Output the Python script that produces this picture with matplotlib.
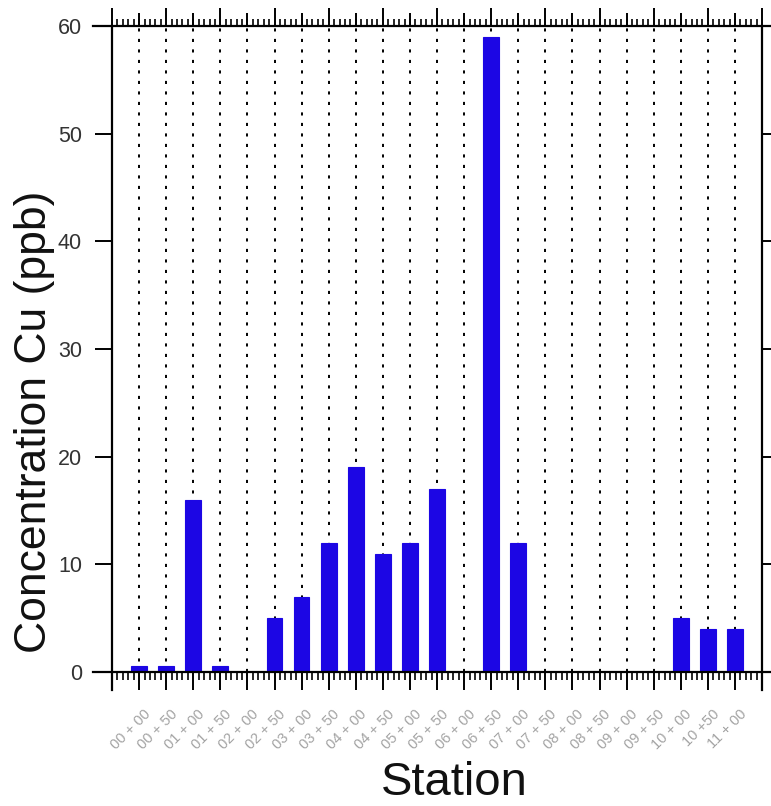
import matplotlib
matplotlib.use('Agg')
import matplotlib.pyplot as plt
import matplotlib.transforms as mtransforms
import numpy as np
from matplotlib.ticker import MultipleLocator, NullFormatter

# ── Data ──────────────────────────────────────────────────────────────────────
stations = ['00 + 00', '00 + 50', '01 + 00', '01 + 50', '02 + 00', '02 + 50',
            '03 + 00', '03 + 50', '04 + 00', '04 + 50', '05 + 00', '05 + 50',
            '06 + 00', '06 + 50', '07 + 00', '07 + 50', '08 + 00', '08 + 50',
            '09 + 00', '09 + 50', '10 + 00', '10 +50', '11 + 00']
cu_ppb = [0.6, 0.6, 16, 0.6, 0, 5, 7, 12, 19, 11, 12, 17,
          0, 59, 12, 0, 0, 0, 0, 0, 5, 4, 4]
y_ticks = [0, 10, 20, 30, 40, 50, 60]

bar_color = '#1c06e4'
px = 72 / 100  # one pixel in points at dpi=100

# ── Setup ─────────────────────────────────────────────────────────────────────
fig = plt.figure(figsize=(7.71, 8.06), dpi=100)
fig.patch.set_facecolor('white')
ax = fig.add_axes([112 / 771, 1 - 672 / 806, 650 / 771, 646 / 806])

x = np.arange(len(stations))
ax.set_xlim(-1, len(stations))
ax.set_ylim(0, 60)

# dotted station guides
for xi in x:
    ax.axvline(xi, color='black', linewidth=1.4, linestyle=(0, (1.6, 3.8)), zorder=1)

ax.bar(x, cu_ppb, width=0.58, color=bar_color, edgecolor=bar_color,
       linewidth=0.8, zorder=3)

# ── Frame: lines run past the corners ────────────────────────────────────────
for s in ax.spines.values():
    s.set_visible(False)
ext_l = 19 / 650
ext_r = 12 / 650
ext_b = 18 / 646
frame = dict(color='black', linewidth=1.6, transform=ax.transAxes, clip_on=False, zorder=5)
ax.plot([-ext_l, 1 + ext_r], [0, 0], **frame)
ax.plot([-ext_l, 1 + ext_r], [1, 1], **frame)
ax.plot([0, 0], [-ext_b, 1], **frame)
ax.plot([1, 1], [-ext_b, 1], **frame)

# ── Y axis ────────────────────────────────────────────────────────────────────
ax.set_yticks(y_ticks)
ax.set_yticklabels([str(v) for v in y_ticks],
                   family=['Liberation Sans', 'DejaVu Sans'],
                   fontsize=15.5, color='#333333')
ax.tick_params(axis='y', which='major', direction='out', length=17 * px, width=1.4,
               pad=13 * px, left=True, right=True, labelleft=True, labelright=False)

# ── Bottom X axis ─────────────────────────────────────────────────────────────
ax.set_xticks(x)
ax.set_xticklabels(stations, rotation=45, ha='right', va='top',
                   family=['Liberation Sans', 'DejaVu Sans'], fontsize=10.5, color='#a3a3a3')
ax.xaxis.set_minor_locator(MultipleLocator(0.2))
ax.tick_params(axis='x', which='major', direction='out', length=18 * px, width=1.4,
               pad=17 * px, bottom=True, top=False)
ax.tick_params(axis='x', which='minor', direction='out', length=8 * px, width=1.2,
               bottom=True, top=False)
shift = mtransforms.ScaledTranslation(14 / 100, 0, fig.dpi_scale_trans)
for lab in ax.get_xticklabels():
    lab.set_transform(lab.get_transform() + shift)

# ── Top X axis: long ticks between stations, medium at whole stations ─────────
top = ax.secondary_xaxis('top')
top.set_xticks(np.arange(-1, len(stations) + 1, 2))
top.xaxis.set_major_formatter(NullFormatter())
top.xaxis.set_minor_locator(MultipleLocator(0.2))
top.tick_params(which='major', direction='out', length=18 * px, width=1.4)
top.tick_params(which='minor', direction='out', length=7 * px, width=1.2)
top.spines['top'].set_visible(False)

top2 = ax.secondary_xaxis('top')
top2.set_xticks(np.arange(0, len(stations) + 1, 2))
top2.xaxis.set_major_formatter(NullFormatter())
top2.tick_params(which='major', direction='out', length=13 * px, width=1.4)
top2.spines['top'].set_visible(False)

# ── Axis titles ───────────────────────────────────────────────────────────────
fig.text(35 / 771, 1 - 422 / 806, 'Concentration Cu (ppb)', rotation=90,
         ha='center', va='center', fontsize=32, family=['Liberation Sans', 'DejaVu Sans'],
         color='#111111')
fig.text(454 / 771, 1 - 783 / 806, 'Station', ha='center', va='center',
         fontsize=34, family=['Liberation Sans', 'DejaVu Sans'], color='#111111')

fig.savefig('out.png', dpi=100, facecolor='white')
